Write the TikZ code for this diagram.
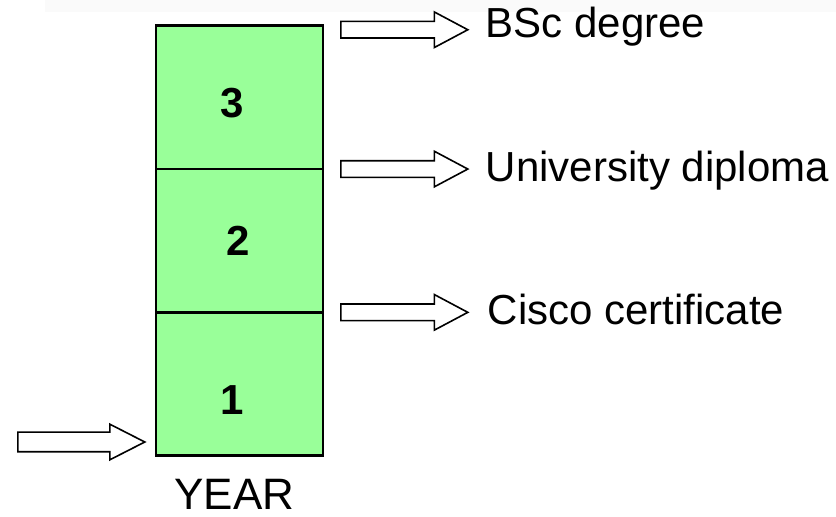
\documentclass[tikz,border=0pt]{standalone}
\usepackage{fontspec}
\setmainfont{Liberation Sans}
\usetikzlibrary{positioning,shapes.arrows}
\definecolor{cellgreen}{RGB}{153,255,153}
\tikzset{
    % cells of the year column
    cell/.style={
           rectangle,
           fill=cellgreen,
           draw=black, line width=2.6pt,
           minimum width=167pt,
           minimum height=143.3pt,
           inner sep=0pt, outer sep=0pt},
    % year numbers
    num/.style={font=\fontsize{42}{48}\selectfont\bfseries},
    % outcome labels
    lbl/.style={font=\fontsize{42}{50}\selectfont, inner sep=0pt, anchor=base west},
    % hollow block arrow
    blockarrow/.style={
           single arrow,
           draw=black, line width=1.6pt,
           fill=white,
           minimum height=127pt,
           inner xsep=0pt, inner ysep=7.5pt,
           single arrow head extend=9.5pt,
           single arrow tip angle=56,
           anchor=tail}
}
\begin{document}
\begin{tikzpicture}[x=1pt,y=1pt]
 \useasboundingbox (0,0) rectangle (836,517);
 \fill[black!2] (45,505) rectangle (836,517);
 %cells
 \node[cell] (c1) at (239.5,133) {};
 \node[cell, above=0pt of c1] (c2) {};
 \node[cell, above=0pt of c2] (c3) {};
 \node[num] (n1) at ([xshift=-7pt,yshift=-16pt]c1.center) {1};
 \node[num] (n2) at ([xshift=-1pt]c2.center) {2};
 \node[num] (n3) at ([xshift=-7pt,yshift=-6pt]c3.center) {3};
 \node[font=\fontsize{44}{52}\selectfont, inner sep=0pt, anchor=north,
   below=23pt of c1.south, xshift=-5pt] (year) {YEAR};
 % arrows going out of the column
 \node[blockarrow] (a3) at ([xshift=17pt,yshift=-4pt]c3.north east) {};
 \node[blockarrow] (a2) at ([xshift=17pt]c2.north east) {};
 \node[blockarrow] (a1) at ([xshift=17pt]c1.north east) {};
 \node[lbl] (bsc) at ([xshift=16pt,yshift=-8pt]a3.tip) {BSc degree};
 \node[lbl] (dip) at ([xshift=16pt,yshift=-12pt]a2.tip) {University diploma};
 \node[lbl] (cis) at ([xshift=18pt,yshift=-12pt]a1.tip) {Cisco certificate};
 % arrow going in
 \node[blockarrow, inner ysep=9pt, single arrow head extend=8pt,
   single arrow tip angle=54] (a0) at (17,75) {};
\end{tikzpicture}
\end{document}
